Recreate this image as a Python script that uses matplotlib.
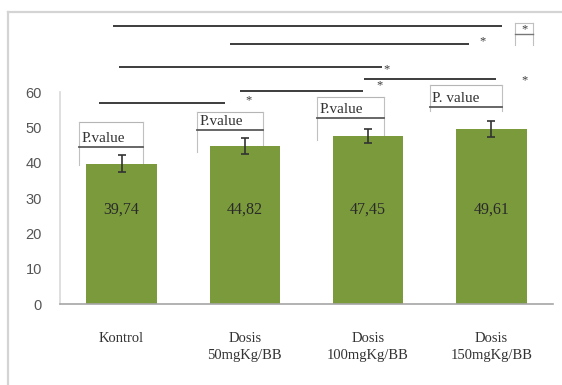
import numpy as np
import matplotlib.pyplot as plt
from matplotlib.lines import Line2D

# data
groups = ["Kontrol", "Dosis\n50mgKg/BB", "Dosis\n100mgKg/BB", "Dosis\n150mgKg/BB"]
means = [39.74, 44.82, 47.45, 49.61]
errors = [2.3, 2.3, 2.0, 2.3]
value_labels = ["39,74", "44,82", "47,45", "49,61"]
pbox_texts = ["P.value", "P.value", "P.value", "P. value"]

# layout of the hand-drawn callouts (data units)
# P.value boxes: x left, x right, top, underline, bottom of the side legs
pbox_x0 = [-0.345, 0.612, 1.585, 2.502]
pbox_x1 = [0.174, 1.148, 2.129, 3.086]
pbox_top = [51.5, 54.3, 58.6, 62.0]
pbox_line = [44.4, 49.2, 52.6, 55.8]
pbox_leg = [39.3, 43.0, 46.4, 54.6]

# comparison lines: x start, x end, y, star x, star y
sig_x0 = [-0.07, 0.88, -0.02, 1.97, 0.96, -0.18]
sig_x1 = [3.09, 2.82, 2.11, 3.04, 1.96, 0.84]
sig_y = [78.7, 73.6, 67.1, 63.7, 60.4, 56.9]
star_x = [None, 2.93, 2.15, 3.27, 2.09, 1.03]
star_y = [None, 74.4, 66.4, 63.4, 62.0, 57.6]

bar_color = "#7A9A3C"
serif = "Liberation Serif"

W, H = 562, 385
fig = plt.figure(figsize=(W / 100, H / 100), dpi=100)
ax = fig.add_axes([60 / W, 81 / H, 493 / W, 290 / H])

x = np.arange(len(means))
ax.bar(x, means, width=0.57, color=bar_color, zorder=2)
ax.errorbar(x, means, yerr=errors, fmt="none", ecolor="#333333",
            elinewidth=1.2, capsize=3, capthick=1.2, zorder=3)

for i, lab in enumerate(value_labels):
    ax.text(x[i], 26.6, lab, ha="center", va="center", fontsize=11.5,
            family=serif, color="#2a2a2a", zorder=4)

# P.value callouts
for i, txt in enumerate(pbox_texts):
    x0, x1 = pbox_x0[i], pbox_x1[i]
    top, ul, leg = pbox_top[i], pbox_line[i], pbox_leg[i]
    ax.plot([x0, x1], [top, top], color="#b5b5b5", lw=0.8, zorder=1)
    ax.plot([x0, x0], [top, leg], color="#c0c0c0", lw=0.8, zorder=1)
    ax.plot([x1, x1], [top, leg], color="#c0c0c0", lw=0.8, zorder=1)
    ax.plot([x0, x1], [ul, ul], color="#5a5a5a", lw=1.3, zorder=1)
    ax.text(x0 + 0.02, ul + 0.6, txt, ha="left", va="bottom", fontsize=11,
            family=serif, color="#333333")

# comparison lines with stars
for i in range(len(sig_y)):
    ax.plot([sig_x0[i], sig_x1[i]], [sig_y[i], sig_y[i]], color="#3c3c3c",
            lw=1.4, solid_capstyle="butt", clip_on=False)
    if star_x[i] is not None:
        ax.text(star_x[i], star_y[i], "*", ha="center", va="center",
                fontsize=9, family=serif, color="#3c3c3c")

# small boxed star at the end of the top line
bx0, bx1 = 3.19, 3.34
ax.plot([bx0, bx1], [79.5, 79.5], color="#c0c0c0", lw=0.8, clip_on=False)
ax.plot([bx0, bx0], [79.5, 73.3], color="#c0c0c0", lw=0.8, clip_on=False)
ax.plot([bx1, bx1], [79.5, 73.3], color="#c0c0c0", lw=0.8, clip_on=False)
ax.plot([bx0, bx1], [76.4, 76.4], color="#777777", lw=1.0, clip_on=False)
ax.text((bx0 + bx1) / 2, 77.8, "*", ha="center", va="center", fontsize=9,
        family=serif, color="#3c3c3c")

ax.set_xlim(-0.5, 3.5)
ax.set_ylim(0, 290 / 3.533)
ax.set_yticks(np.arange(0, 61, 10))
ax.set_xticks(x, groups)
for lab in ax.get_xticklabels():
    lab.set_family(serif)
    lab.set_fontsize(10.5)
    lab.set_color("#333333")
    lab.set_linespacing(1.45)
for lab in ax.get_yticklabels():
    lab.set_family("Liberation Sans")
    lab.set_fontsize(10.5)
    lab.set_color("#555555")
ax.tick_params(axis="y", length=0, pad=13)
ax.tick_params(axis="x", length=0, pad=20)

for s in ["top", "right"]:
    ax.spines[s].set_visible(False)
ax.spines["left"].set_bounds(0, 60)
ax.spines["left"].set_color("#d9d9d9")
ax.spines["left"].set_linewidth(1.2)
ax.spines["bottom"].set_color("#a6a6a6")
ax.spines["bottom"].set_linewidth(1.2)

# chart area border
fy = 1 - 12 / H
fig.add_artist(Line2D([8 / W, 1], [fy, fy], transform=fig.transFigure,
                      color="#d4d4d4", lw=1.6))
fig.add_artist(Line2D([8 / W, 8 / W], [0, fy], transform=fig.transFigure,
                      color="#d4d4d4", lw=1.6))

fig.savefig("out.png", dpi=100)
